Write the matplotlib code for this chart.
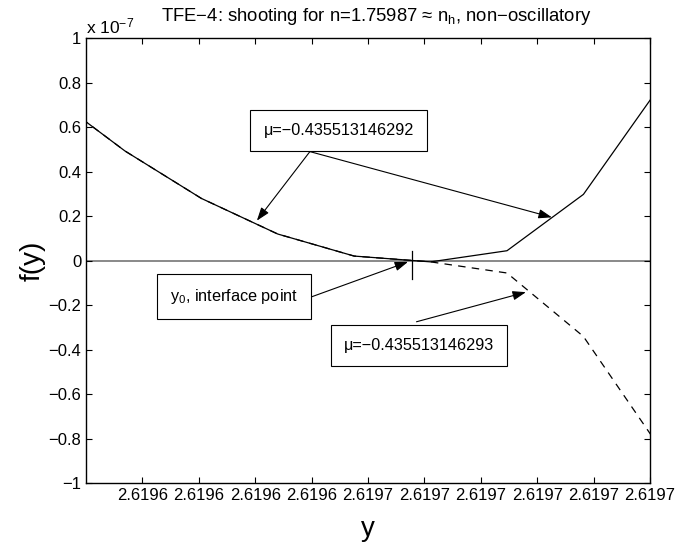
import numpy as np
import matplotlib
matplotlib.use("Agg")
import matplotlib.pyplot as plt
from matplotlib.ticker import FixedLocator, FixedFormatter, FuncFormatter

plt.rcParams["font.family"] = ["Liberation Sans", "DejaVu Sans"]
plt.rcParams["mathtext.fontset"] = "custom"
plt.rcParams["mathtext.rm"] = "Liberation Sans"
plt.rcParams["mathtext.it"] = "Liberation Sans:italic"

# solution samples near the interface point (f in units of 1e-7)
y_pts = [2.619644335, 2.61964569, 2.619647045, 2.6196484, 2.619649755,
         2.61965111, 2.619652465, 2.61965382, 2.619655175]
f_upper = [0.75, 0.493, 0.280, 0.120, 0.021, -0.005, 0.045, 0.298, 0.783]
f_lower = [0.75, 0.493, 0.280, 0.120, 0.021, -0.005, -0.055, -0.34, -0.84]

y0 = 2.61965078
y0_mark = [-0.082, 0.045]

x_lim = [2.619645, 2.619655]
x_ticks = [2.619646, 2.619647, 2.619648, 2.619649, 2.619650,
           2.619651, 2.619652, 2.619653, 2.619654, 2.619655]
x_ticklabels = ["2.6196"] * 4 + ["2.6197"] * 6
y_ticks = [-1, -0.8, -0.6, -0.4, -0.2, 0, 0.2, 0.4, 0.6, 0.8, 1]

fig = plt.figure(figsize=(6.76, 5.43), dpi=100)
ax = fig.add_axes([0.1272, 0.1096, 0.8343, 0.8204])

ax.axhline(0, color="0.5", lw=1.3, zorder=1)
ax.plot(y_pts, f_lower, color="black", lw=0.9, ls=(0, (6, 5)), zorder=2)
ax.plot(y_pts, f_upper, color="black", lw=0.9, zorder=3)
ax.plot([y0, y0], y0_mark, color="black", lw=0.9, zorder=3)

ax.set_xlim(x_lim)
ax.set_ylim(-1, 1)
ax.xaxis.set_major_locator(FixedLocator(x_ticks))
ax.xaxis.set_major_formatter(FixedFormatter(x_ticklabels))
ax.yaxis.set_major_locator(FixedLocator(y_ticks))
ax.yaxis.set_major_formatter(FuncFormatter(lambda v, p: ("%g" % round(v, 2)).replace("-", "\u2212")))
ax.tick_params(direction="in", top=True, right=True, length=4, width=0.8, labelsize=12)
for s in ax.spines.values():
    s.set_linewidth(1.0)

ax.set_xlabel("y", fontsize=20, labelpad=9)
ax.set_ylabel("f(y)", fontsize=20, labelpad=2)
ax.set_title("TFE\u22124: shooting for n=1.75987 \u2248 n$_\\mathrm{h}$, non\u2212oscillatory",
             fontsize=13.3, pad=12, x=0.515)
ax.text(0.0, 1.004, "x 10$^{\\mathrm{\u22127}}$", transform=ax.transAxes, fontsize=12.5,
        ha="left", va="bottom")


def u(t):
    return x_lim[0] + t * 1e-6


box = dict(boxstyle="square,pad=0.8", fc="white", ec="black", lw=0.8)
arrow = dict(arrowstyle="-|>,head_length=0.8,head_width=0.28", color="black", lw=0.8,
             shrinkA=0, shrinkB=0)

ax.text(u(4.48), 0.585, "\u03bc=\u22120.435513146292", fontsize=11.7, ha="center", va="center",
        bbox=box, zorder=5)
ax.annotate("", xy=(u(3.03), 0.18), xytext=(u(3.97), 0.49), arrowprops=arrow)
ax.annotate("", xy=(u(8.26), 0.195), xytext=(u(3.97), 0.49), arrowprops=arrow)

ax.text(u(2.63), -0.16, "y$_\\mathrm{0}$, interface point", fontsize=11.7, ha="center",
        va="center", bbox=box, zorder=5)
ax.annotate("", xy=(u(5.71), -0.005), xytext=(u(4.0), -0.162), arrowprops=arrow)

ax.text(u(5.90), -0.38, "\u03bc=\u22120.435513146293", fontsize=11.7, ha="center", va="center",
        bbox=box, zorder=5)
ax.annotate("", xy=(u(7.80), -0.141), xytext=(u(5.86), -0.274), arrowprops=arrow)

fig.savefig("out.png", dpi=100)
